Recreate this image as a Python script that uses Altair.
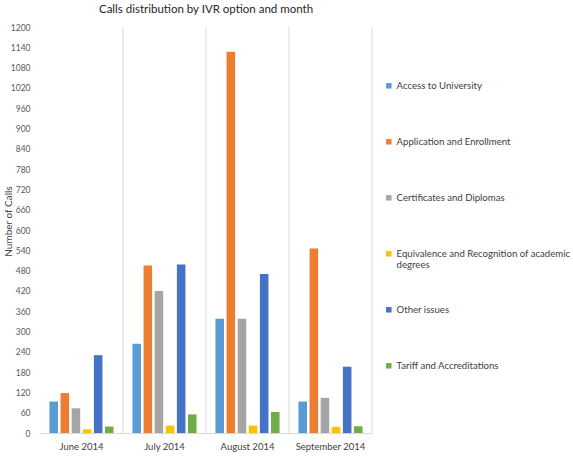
import altair as alt
import pandas as pd

months = ["June 2014", "July 2014", "August 2014", "September 2014"]
options = [
    "Access to University",
    "Application and Enrollment",
    "Certificates and Diplomas",
    "Equivalence and Recognition of academic degrees",
    "Other issues",
    "Tariff and Accreditations",
]
colors = ["#5B9BD5", "#ED7D31", "#A5A5A5", "#FFC000", "#4472C4", "#70AD47"]

access = [93, 264, 338, 93]
application = [118, 495, 1127, 545]
certificates = [73, 420, 338, 104]
equivalence = [11, 22, 22, 18]
other = [230, 498, 470, 196]
tariff = [19, 55, 62, 20]

series = [access, application, certificates, equivalence, other, tariff]
rows = []
for opt, vals in zip(options, series):
    for m, v in zip(months, vals):
        rows.append({"month": m, "option": opt, "calls": v})
df = pd.DataFrame(rows)
grid_df = pd.DataFrame({"month": months})

FONT = "Lato"

bars = alt.Chart(df).mark_bar().encode(
    x=alt.X("month:N", sort=months, title=None,
            scale=alt.Scale(paddingInner=0, paddingOuter=0),
            axis=alt.Axis(labelAngle=0, ticks=False, domainColor="#D9D9D9",
                          labelPadding=8, labelFontSize=9.5, labelColor="#404040",
                          labelFont=FONT, grid=False, bandPosition=0.5)),
    xOffset=alt.XOffset("option:N", sort=options,
                        scale=alt.Scale(paddingInner=0.23, paddingOuter=0.85)),
    y=alt.Y("calls:Q", title="Number of Calls",
            scale=alt.Scale(domain=[0, 1200], nice=False),
            axis=alt.Axis(values=list(range(0, 1201, 60)), format="d", grid=False,
                          domain=False, ticks=False, labelPadding=10, labelFontSize=8.5,
                          labelColor="#595959", labelFont=FONT,
                          titleFont=FONT, titleFontSize=10, titleFontWeight="normal",
                          titleColor="#404040", titleX=-27, titleY=194)),
    color=alt.Color("option:N", sort=options,
                    scale=alt.Scale(domain=options, range=colors),
                    legend=alt.Legend(
                        title=None, orient="none", legendX=344, legendY=54,
                        symbolType="square", symbolSize=30, symbolStrokeWidth=0,
                        labelFont=FONT, labelFontSize=9.6, labelColor="#404040",
                        labelLimit=300, rowPadding=34, gridAlign="all", padding=0,
                        labelOffset=3,
                        labelExpr="datum.label == 'Equivalence and Recognition of academic degrees' ? ['Equivalence and Recognition of academic', 'degrees'] : datum.label",
                    )),
)

grid = alt.Chart(grid_df).mark_rule(color="#D9D9D9", strokeWidth=1).encode(
    x=alt.X("month:N", sort=months, bandPosition=1, axis=None),
)

chart = alt.layer(grid, bars).resolve_axis(x="independent").properties(
    width=332, height=406,
    autosize=alt.AutoSizeParams(type="none"),
    padding={"left": 40, "top": 27, "right": 201, "bottom": 26},
    title=alt.Title("Calls distribution by IVR option and month", font=FONT,
                    fontSize=11.5, fontWeight="normal", color="#262626",
                    anchor="middle", offset=8),
).configure_view(stroke=None)

chart.save("out.html", embed_options={"renderer": "svg", "actions": False})
